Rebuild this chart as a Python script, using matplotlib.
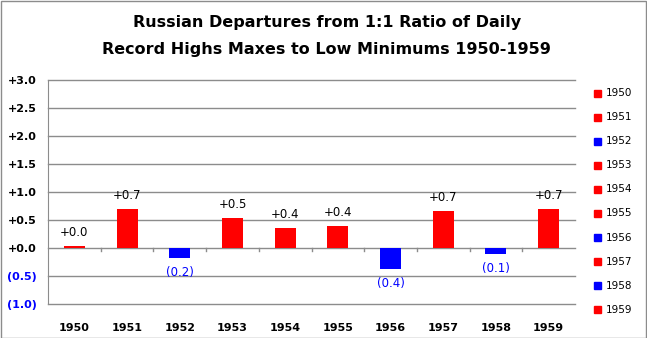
import numpy as np
import matplotlib
matplotlib.use("Agg")
import matplotlib.pyplot as plt
from matplotlib.patches import Rectangle

# data
years = ['1950', '1951', '1952', '1953', '1954', '1955', '1956', '1957', '1958', '1959']
values = [0.03, 0.70, -0.17, 0.54, 0.36, 0.39, -0.37, 0.66, -0.11, 0.70]
yticks = [-1.0, -0.5, 0.0, 0.5, 1.0, 1.5, 2.0, 2.5, 3.0]

RED = '#ff0000'
BLUE = '#0000ff'
GRID = '#8c8c8c'

def fmt(v):
    if v < 0:
        return '(%.1f)' % abs(v)
    return '+%.1f' % v

colors = [RED if v >= 0 else BLUE for v in values]

fig = plt.figure(figsize=(6.47, 3.38), dpi=100)
ax = fig.add_axes([48/647, 1 - 304/338, (575-48)/647, 224/338])

x = np.arange(len(years))
ax.bar(x, values, width=0.4, color=colors, zorder=3)

ax.set_xlim(-0.5, len(years) - 0.5)
ax.set_ylim(-1.0, 3.0)
ax.set_yticks(yticks)
ax.set_yticklabels([fmt(v) for v in yticks], fontsize=8, fontweight='bold')
for lab, v in zip(ax.get_yticklabels(), yticks):
    lab.set_color(BLUE if v < 0 else 'black')
ax.set_xticks(x)
ax.set_xticklabels(years, fontsize=8, fontweight='bold')
ax.tick_params(axis='both', length=0)
ax.tick_params(axis='x', pad=14)
ax.tick_params(axis='y', pad=8)

# horizontal gridlines (drawn unclipped so the bottom one shows)
for v in yticks:
    ax.axhline(v, color=GRID, linewidth=1, zorder=1, clip_on=False)
for s in ['top', 'right', 'bottom']:
    ax.spines[s].set_visible(False)
ax.spines['left'].set_color(GRID)

# category separator ticks along the zero line
for b in np.arange(0.5, len(years) - 0.5, 1.0):
    ax.plot([b, b], [0, -0.06], color=GRID, linewidth=1, zorder=2, clip_on=False)

# data labels
for xi, v in zip(x, values):
    if v >= 0:
        ax.annotate(fmt(v), (xi, v), xytext=(0, 5), textcoords='offset points',
                    ha='center', va='bottom', fontsize=8.5)
    else:
        ax.annotate(fmt(v), (xi, v), xytext=(0, -6), textcoords='offset points',
                    ha='center', va='top', fontsize=8.5, color=BLUE)

fig.text(0.505, 0.932, 'Russian Departures from 1:1 Ratio of Daily',
         ha='center', va='center', fontsize=11.5, fontweight='bold')
fig.text(0.505, 0.855, 'Record Highs Maxes to Low Minimums 1950-1959',
         ha='center', va='center', fontsize=11.5, fontweight='bold')

# legend on the right
for i, (yr, c) in enumerate(zip(years, colors)):
    yc = 1 - (93 + i * 24.1) / 338
    fig.add_artist(Rectangle((594/647, yc - 3.5/338), 7/647, 7/338,
                             transform=fig.transFigure, color=c))
    fig.text(606/647, yc, yr, ha='left', va='center', fontsize=7.5)

# outer frame
fig.add_artist(Rectangle((0.5/647, 0.5/338), 1 - 1.5/647, 1 - 1.5/338,
                         transform=fig.transFigure, fill=False,
                         edgecolor='#8c8c8c', linewidth=1))

fig.savefig('out.png', dpi=100)
